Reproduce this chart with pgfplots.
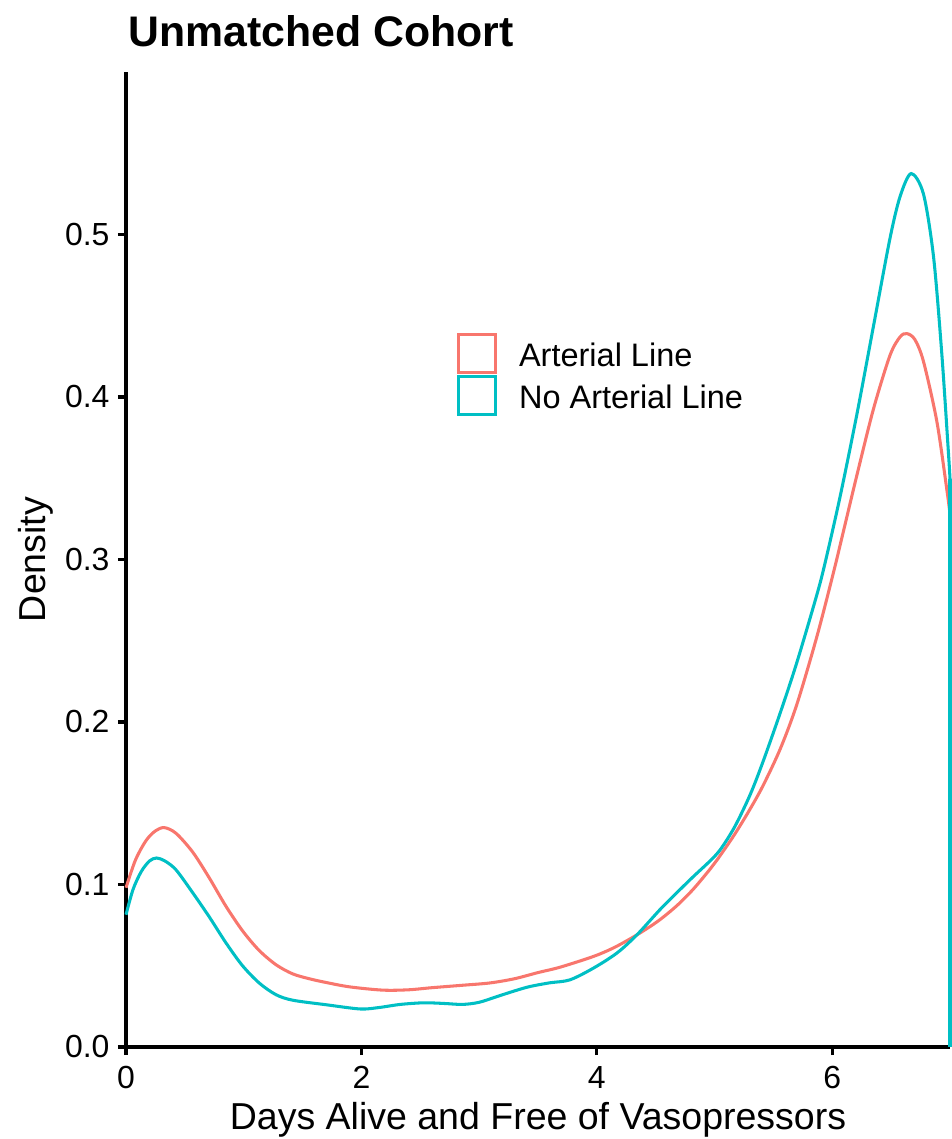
\documentclass[border=0pt]{standalone}
\usepackage{pgfplots}
\pgfplotsset{compat=1.18}
\usepackage{fontspec}
\setmainfont{Liberation Sans}
\definecolor{redc}{HTML}{F8766D}
\definecolor{tealc}{HTML}{00BFC4}
\pgfplotstableread{
x y
0.00 0.098
0.08 0.115
0.17 0.127
0.25 0.133
0.326 0.135
0.425 0.1315
0.566 0.1200
0.708 0.1040
0.85 0.0865
0.99 0.0715
1.13 0.0595
1.275 0.0506
1.416 0.0450
1.557 0.0420
1.70 0.0397
1.90 0.0370
2.18 0.0350
2.40 0.0352
2.60 0.0365
2.86 0.0380
3.09 0.0394
3.30 0.042
3.50 0.0458
3.687 0.0491
3.97 0.0557
4.15 0.0613
4.34 0.0690
4.52 0.0775
4.68 0.0870
4.82 0.0972
4.96 0.1093
5.02 0.1150
5.16 0.1297
5.29 0.1450
5.41 0.1606
5.56 0.1838
5.70 0.2111
5.868 0.2523
6.01 0.2920
6.10 0.3190
6.208 0.3516
6.35 0.3927
6.49 0.4256
6.576 0.4370
6.633 0.4390
6.70 0.4355
6.774 0.4220
6.888 0.3850
6.973 0.3430
7.00 0.3280
}\artline
\pgfplotstableread{
x y
0.00 0.0814
0.06 0.097
0.13 0.108
0.20 0.1145
0.26 0.1163
0.33 0.1145
0.425 0.109
0.566 0.0950
0.708 0.0800
0.85 0.0640
0.99 0.0500
1.133 0.0393
1.274 0.0322
1.416 0.0288
1.70 0.0260
1.99 0.0234
2.15 0.0243
2.33 0.0262
2.53 0.0272
2.70 0.0268
2.86 0.0262
3.00 0.0275
3.15 0.031
3.30 0.0345
3.43 0.0372
3.60 0.0395
3.77 0.0413
3.97 0.0485
4.17 0.0578
4.34 0.069
4.537 0.0846
4.68 0.0950
4.82 0.1049
4.96 0.1144
5.05 0.1216
5.17 0.1354
5.30 0.1549
5.41 0.1753
5.56 0.2061
5.70 0.2369
5.868 0.2781
5.94 0.2983
6.066 0.3386
6.208 0.3890
6.35 0.4437
6.49 0.4976
6.576 0.5234
6.67 0.5375
6.774 0.5250
6.86 0.4863
6.93 0.4268
6.987 0.3652
7.00 0.3496
}\noartline
\begin{document}
\begin{tikzpicture}
\begin{axis}[
  scale only axis,
  width=296.64pt, height=351pt,
  xmin=0, xmax=7, ymin=0, ymax=0.6,
  axis x line=bottom, axis y line=left,
  axis line style={black, line width=1.1pt, -},
  xtick={0,2,4,6}, ytick={0,0.1,0.2,0.3,0.4,0.5},
  yticklabel style={/pgf/number format/fixed, /pgf/number format/fixed zerofill, /pgf/number format/precision=1},
  tick align=outside, major tick length=2.9pt,
  tick style={black, line width=1.1pt},
  /pgf/number format/assume math mode=true,
  tick label style={font=\fontsize{11.5}{13}\selectfont, black},
  xticklabel style={anchor=base, inner sep=0pt, yshift=-11.86pt},
  yticklabel style={anchor=east, inner sep=0pt, xshift=-2.86pt},
  xlabel={Days Alive and Free of Vasopressors},
  ylabel={Density},
  label style={font=\fontsize{13.5}{16}\selectfont, inner sep=0pt},
  xlabel style={at={([yshift=-29.52pt]rel axis cs:0.5,0)}, anchor=base},
  ylabel style={at={([xshift=-28.8pt]rel axis cs:0,0.5)}, anchor=base},
  clip=false,
  legend style={at={(axis cs:2.808,0.44)}, anchor=north west, draw=none, fill=none,
    inner xsep=0pt, inner ysep=0pt, font=\fontsize{11.7}{14}\selectfont,
    column sep=5.9pt, row sep=-0.4pt},
  legend cell align=left,
  legend image code/.code={\draw[#1, line width=1.1pt, fill=none] (0pt,-5.55pt) rectangle (13.3pt,8.15pt);},
]
\addplot[redc, line width=1.1pt, smooth] table[x=x,y=y] {\artline};
\addlegendentry{Arterial Line}
\addplot[tealc, line width=1.1pt, smooth] table[x=x,y=y] {\noartline};
\addlegendentry{No Arterial Line}
\addplot[tealc, line width=1.1pt, forget plot] coordinates {(7,0.3496) (7,0)};
\node[anchor=base west, inner sep=0pt, font=\bfseries\fontsize{15.4}{18}\selectfont]
  at ([xshift=0.72pt, yshift=9pt]rel axis cs:0,1) {Unmatched Cohort};
\path ([xshift=-45.36pt, yshift=-33.12pt]rel axis cs:0,0) rectangle ([xshift=0.36pt, yshift=25.92pt]rel axis cs:1,1);
\end{axis}
\end{tikzpicture}
\end{document}
